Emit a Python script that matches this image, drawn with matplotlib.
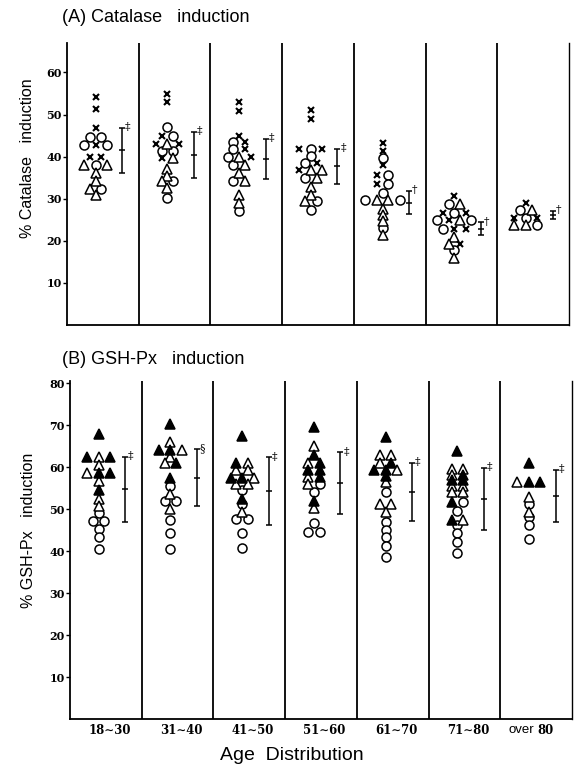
import matplotlib
matplotlib.use("Agg")
import matplotlib.pyplot as plt

# ---------------- data ----------------
groups = ["18\u223c30", "31\u223c40", "41\u223c50", "51\u223c60", "61\u223c70", "71\u223c80", "over 80"]

# (A) Catalase induction: values listed top-to-bottom, left-to-right; kinds x=cross o=circle t=open triangle
cat_vals_1 = [54.1, 51.4, 46.7, 44.7, 44.7, 42.7, 42.7, 42.7, 40.0, 40.0, 38.1, 38.1, 38.1, 36.1, 34.3, 32.4, 32.4, 30.8]
cat_kind_1 = "xxxoooxoxxtottttot"
cat_vals_2 = [54.8, 52.9, 47.1, 44.8, 44.8, 42.9, 42.9, 42.9, 41.3, 41.3, 39.7, 39.7, 37.1, 35.5, 34.1, 34.1, 32.5, 30.2]
cat_kind_2 = "xxoxoxtxooxttttoto"
cat_vals_3 = [52.9, 50.8, 45.0, 43.4, 43.4, 41.7, 41.7, 39.8, 39.8, 39.8, 37.9, 37.9, 36.0, 34.1, 34.1, 31.0, 29.0, 27.1]
cat_kind_3 = "xxxoxoxotxottottto"
cat_vals_4 = [51.0, 49.0, 41.7, 41.7, 41.7, 40.1, 38.5, 38.5, 36.9, 36.9, 36.9, 34.9, 34.9, 32.9, 31.0, 29.4, 29.4, 27.4]
cat_kind_4 = "xxxoxooxxttottttoo"
cat_vals_5 = [43.2, 41.3, 39.7, 38.1, 35.6, 35.6, 33.6, 33.6, 31.3, 29.8, 29.8, 29.8, 29.8, 27.6, 26.2, 24.6, 23.0, 21.4]
cat_kind_5 = "xxoxxoxooottotttot"
cat_vals_6 = [30.6, 28.8, 28.8, 26.7, 26.7, 26.7, 25.0, 25.0, 25.0, 25.0, 22.9, 22.9, 22.9, 21.0, 19.2, 19.2, 17.9, 16.0]
cat_kind_6 = "xotxoxoxtooxxttxot"
cat_vals_7 = [29.0, 27.4, 27.4, 25.5, 25.5, 25.5, 23.8, 23.8, 23.8]
cat_kind_7 = "xotxoxtto"

cat_mean = [41.5, 40.4, 39.4, 37.7, 29.1, 22.9, 26.2]
cat_sd = [5.3, 5.4, 4.8, 4.1, 2.7, 1.5, 0.9]
cat_sig = ["\u2021", "\u2021", "\u2021", "\u2021", "\u2020", "\u2020", "\u2020"]

# (B) GSH-Px induction: kinds f=filled triangle t=open triangle o=circle
gsh_vals_1 = [67.9, 62.5, 62.5, 62.5, 60.5, 58.5, 58.5, 58.5, 56.7, 54.5, 52.5, 50.7, 49.0, 47.2, 47.2, 45.2, 43.3, 40.6]
gsh_kind_1 = "fftfttfftfttoooooo"
gsh_vals_2 = [70.2, 65.9, 64.0, 64.0, 64.0, 62.5, 60.9, 60.9, 57.5, 55.5, 53.5, 52.0, 52.0, 50.0, 47.5, 44.2, 40.6]
gsh_kind_2 = "ftfftttffotootooo"
gsh_vals_3 = [67.4, 60.9, 60.9, 59.3, 59.3, 57.5, 57.5, 57.5, 56.0, 56.0, 54.5, 52.5, 51.2, 49.4, 47.6, 47.6, 44.2, 40.8]
gsh_kind_3 = "fftttffttto" + "fotoooo"
gsh_vals_4 = [69.6, 65.0, 62.9, 60.9, 60.9, 59.3, 59.3, 57.7, 57.7, 56.0, 56.0, 54.1, 52.0, 50.2, 46.6, 44.5, 44.5]
gsh_kind_4 = "ftftffftftooftooo"
gsh_vals_5 = [67.1, 62.9, 62.9, 61.0, 61.0, 59.4, 59.4, 59.4, 57.9, 56.4, 54.0, 51.2, 51.2, 49.2, 46.8, 45.1, 43.3, 41.1, 38.5]
gsh_kind_5 = "ftttffftftotttooooo"
gsh_vals_6 = [63.8, 59.6, 59.6, 58.1, 58.1, 56.9, 56.9, 55.6, 55.6, 54.0, 54.0, 51.8, 51.8, 49.6, 47.4, 47.4, 46.2, 44.2, 42.2, 39.6]
gsh_kind_6 = "ftttfffttttfooftoooo"
gsh_vals_7 = [61.0, 56.4, 56.4, 56.4, 52.9, 51.2, 49.4, 48.0, 46.2, 42.9]
gsh_kind_7 = "ftfftotooo"

gsh_mean = [54.7, 57.5, 54.3, 56.2, 54.0, 52.4, 53.1]
gsh_sd = [7.7, 6.8, 8.0, 7.3, 6.9, 7.4, 6.2]
gsh_sig = ["\u2021", "\u00a7", "\u2021", "\u2021", "\u2021", "\u2021", "\u2021"]

cat_vals = [cat_vals_1, cat_vals_2, cat_vals_3, cat_vals_4, cat_vals_5, cat_vals_6, cat_vals_7]
cat_kinds = [cat_kind_1, cat_kind_2, cat_kind_3, cat_kind_4, cat_kind_5, cat_kind_6, cat_kind_7]
gsh_vals = [gsh_vals_1, gsh_vals_2, gsh_vals_3, gsh_vals_4, gsh_vals_5, gsh_vals_6, gsh_vals_7]
gsh_kinds = [gsh_kind_1, gsh_kind_2, gsh_kind_3, gsh_kind_4, gsh_kind_5, gsh_kind_6, gsh_kind_7]

# ---------------- style ----------------
STEP = 0.16
PT_X, ERR_X, SIG_X = 0.40, 0.77, 0.85
SANS = ["Liberation Sans", "DejaVu Sans"]
SERIF = ["DejaVu Serif"]

marker_style = {
    "x": dict(marker="x", ms=4.6, mew=1.5, mfc="none", mec="black", ls="none"),
    "o": dict(marker="o", ms=6.5, mew=1.1, mfc="white", mec="black", ls="none"),
    "t": dict(marker="^", ms=6.8, mew=1.1, mfc="white", mec="black", ls="none"),
    "f": dict(marker="^", ms=6.8, mew=1.1, mfc="black", mec="black", ls="none"),
}


def swarm(vals):
    offs = []
    i = 0
    n = len(vals)
    while i < n:
        j = i
        while j + 1 < n and vals[j + 1] == vals[i]:
            j += 1
        k = j - i + 1
        for m in range(k):
            offs.append((m - (k - 1) / 2) * STEP)
        i = j + 1
    return offs


def panel(ax, vals_list, kinds_list, means, sds, sigs, ymax, ticks):
    ax.set_xlim(0, 7)
    ax.set_ylim(0, ymax)
    for g, (vals, kinds) in enumerate(zip(vals_list, kinds_list)):
        offs = swarm(vals)
        for k in "otfx":
            xs = [g + PT_X + o for o, kk in zip(offs, kinds) if kk == k]
            ys = [v for v, kk in zip(vals, kinds) if kk == k]
            if xs:
                ax.plot(xs, ys, zorder=3 if k != "x" else 4, **marker_style[k])
        ax.errorbar([g + ERR_X], [means[g]], yerr=[sds[g]], fmt="none",
                    ecolor="black", elinewidth=1.1, capsize=2.2, capthick=1.1, zorder=3)
        ax.plot([g + ERR_X], [means[g]], marker="_", ms=5, mew=1.1, color="black", zorder=3)
        ax.text(g + SIG_X, means[g] + sds[g] - 1.0, sigs[g], ha="center", va="bottom",
                fontsize=8, family=SERIF, color="black")
    for g in range(1, 7):
        ax.axvline(g, color="black", lw=1.3, zorder=2)
    for s in ["left", "bottom"]:
        ax.spines[s].set_linewidth(1.3)
    ax.spines["right"].set_linewidth(1.0)
    ax.spines["top"].set_visible(False)
    ax.set_xticks([])
    ax.set_yticks(ticks)
    ax.set_yticklabels([str(t) for t in ticks], fontsize=8, fontweight="bold", family=SERIF)
    ax.tick_params(axis="y", direction="out", length=3, width=1, pad=1)


fig = plt.figure(figsize=(5.74, 7.66), dpi=100)

ax1 = fig.add_axes([67 / 574, 1 - 325 / 766, 502 / 574, 282 / 766])
panel(ax1, cat_vals, cat_kinds, cat_mean, cat_sd, cat_sig, 67.0, [10, 20, 30, 40, 50, 60])

ax2 = fig.add_axes([70 / 574, 1 - 719 / 766, 502 / 574, 338 / 766])
panel(ax2, gsh_vals, gsh_kinds, gsh_mean, gsh_sd, gsh_sig, 80.5, [10, 20, 30, 40, 50, 60, 70, 80])

# titles and axis labels
fig.text(62 / 574, 1 - 18 / 766, "(A) Catalase   induction", ha="left", va="center",
         fontsize=13, family=SANS)
fig.text(62 / 574, 1 - 359 / 766, "(B) GSH-Px   induction", ha="left", va="center",
         fontsize=13, family=SANS)
fig.text(28 / 574, 1 - 158 / 766, "% Catalase   induction", rotation=90, ha="center",
         va="center", fontsize=11.5, family=SANS)
fig.text(29 / 574, 1 - 530 / 766, "% GSH-Px   induction", rotation=90, ha="center",
         va="center", fontsize=11.5, family=SANS)

# category labels
for g, lab in enumerate(groups):
    if lab.startswith("over"):
        ax2.text(g + 0.47, -0.033, "over", transform=ax2.get_xaxis_transform(), ha="right",
                 va="center", fontsize=9.5, family=SANS)
        ax2.text(g + 0.52, -0.033, lab.split()[1], transform=ax2.get_xaxis_transform(),
                 ha="left", va="center", fontsize=8.5, fontweight="bold", family=SERIF)
    else:
        ax2.text(g + 0.55, -0.033, lab, transform=ax2.get_xaxis_transform(), ha="center",
                 va="center", fontsize=8.5, fontweight="bold", family=SERIF)

fig.text(292 / 574, 1 - 756 / 766, "Age  Distribution", ha="center", va="center",
         fontsize=14, family=SANS)

fig.savefig("out.png", dpi=100)
